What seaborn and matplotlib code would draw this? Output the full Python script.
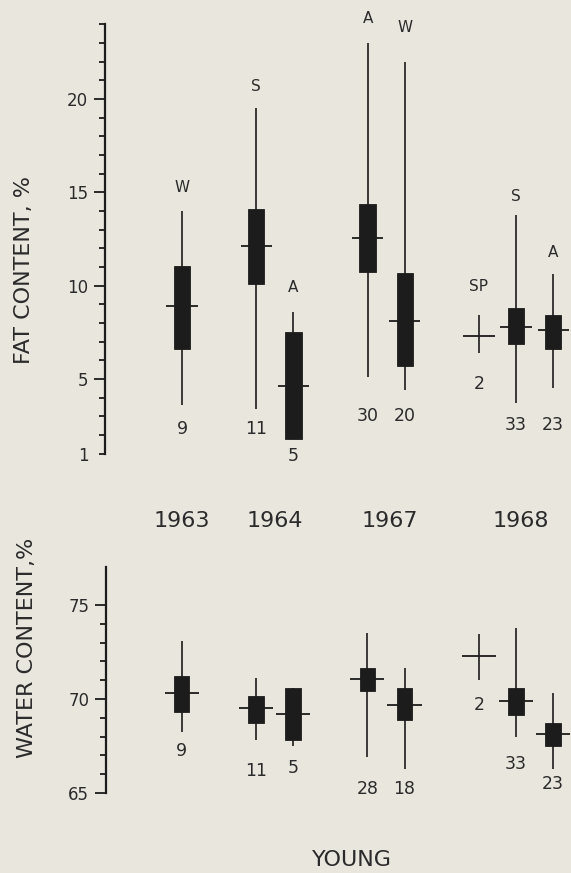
import numpy as np
import matplotlib
matplotlib.use("Agg")
import matplotlib.pyplot as plt
import seaborn as sns
from matplotlib.ticker import FixedLocator, FuncFormatter, NullFormatter

# ---------------- data ----------------
years = ["1963", "1964", "1967", "1968"]
seasons = ["W", "S", "A", "A", "W", "SP", "S", "A"]
group_year = ["1963", "1964", "1964", "1967", "1967", "1968", "1968", "1968"]

fat_low = [3.6, 3.4, 1.8, 5.1, 4.4, 6.4, 3.7, 4.5]
fat_q1 = [6.6, 10.1, 1.8, 10.75, 5.7, np.nan, 6.85, 6.6]
fat_med = [8.9, 12.1, 4.65, 12.55, 8.1, 7.3, 7.8, 7.6]
fat_q3 = [11.05, 14.1, 7.5, 14.4, 10.7, np.nan, 8.8, 8.45]
fat_high = [14.0, 19.5, 8.6, 23.0, 22.0, 8.45, 13.8, 10.6]
fat_n = [9, 11, 5, 30, 20, 2, 33, 23]

water_low = [68.25, 67.8, 67.5, 66.9, 66.3, 71.0, 68.0, 66.3]
water_q1 = [69.3, 68.7, 67.8, 70.4, 68.9, np.nan, 69.15, 67.5]
water_med = [70.3, 69.5, 69.2, 71.05, 69.7, 72.3, 69.9, 68.15]
water_q3 = [71.2, 70.15, 70.6, 71.65, 70.6, np.nan, 70.6, 68.7]
water_high = [73.1, 71.1, 70.6, 73.5, 71.65, 73.45, 73.8, 70.3]
water_n = [9, 11, 5, 28, 18, 2, 33, 23]

# layout (slot positions and label anchors)
slots = [1, 2, 2.5, 3.5, 4, 5, 5.5, 6]
year_slots = [1.0, 2.25, 3.8, 5.56]
season_label_y = [15.25, 20.65, 9.9, 24.3, 23.85, 9.95, 14.75, 11.8]
fat_n_y = [2.3, 2.3, 0.85, 3.0, 3.0, 4.75, 2.55, 2.55]
water_n_y = [67.25, 66.15, 66.35, 65.2, 65.2, 69.7, 66.55, 65.5]

# ---------------- style ----------------
sns.set_theme(style="ticks")
plt.rcParams["font.family"] = ["DejaVu Sans"]
bg = "#e9e6de"
ink = "#1c1c1c"
txt = "#2b2b2b"

fig = plt.figure(figsize=(5.71, 8.73), dpi=100, facecolor=bg)
ax_f = fig.add_axes([0.1839, 0.4803, 0.8161, 0.4919])
ax_w = fig.add_axes([0.1856, 0.09164, 0.8144, 0.2585])


def draw_panel(ax, low, q1, med, q3, high, width, half):
    for x, lo, a, m, b, hi in zip(slots, low, q1, med, q3, high):
        ax.vlines(x, lo, hi, color=ink, lw=1.2, zorder=2)
        if not np.isnan(a):
            ax.bar(x, b - a, bottom=a, width=width, color=ink,
                   edgecolor=ink, lw=0.6, zorder=3)
        ax.hlines(m, x - half, x + half, color=ink, lw=1.3, zorder=4)


draw_panel(ax_f, fat_low, fat_q1, fat_med, fat_q3, fat_high, 0.22, 0.21)
draw_panel(ax_w, water_low, water_q1, water_med, water_q3, water_high, 0.21, 0.23)

for ax in (ax_f, ax_w):
    ax.set_facecolor(bg)
    sns.despine(ax=ax, top=True, right=True, bottom=True)
    ax.spines["left"].set_color(ink)
    ax.spines["left"].set_linewidth(1.6)
    ax.tick_params(axis="x", bottom=False, labelbottom=False)
    ax.tick_params(axis="y", which="major", length=8, width=1.3, color=ink,
                   labelsize=12, labelcolor=txt, pad=4)
    ax.tick_params(axis="y", which="minor", length=4, width=1.3, color=ink,
                   labelsize=12, labelcolor=txt, pad=8)
    ax.grid(False)

ax_f.set_xlim(-0.038, 6.24)
ax_f.set_ylim(1, 24)
ax_f.yaxis.set_major_locator(FixedLocator([5, 10, 15, 20]))
ax_f.yaxis.set_minor_locator(FixedLocator([v for v in range(1, 25) if v not in (5, 10, 15, 20)]))
ax_f.yaxis.set_minor_formatter(FuncFormatter(lambda v, p: "1" if abs(v - 1) < 1e-6 else ""))

ax_w.set_xlim(-0.0175, 6.24)
ax_w.set_ylim(65, 77)
ax_w.yaxis.set_major_locator(FixedLocator([65, 70, 75]))
ax_w.yaxis.set_minor_locator(FixedLocator([66, 67, 68, 69, 71, 72, 73, 74]))
ax_w.yaxis.set_minor_formatter(NullFormatter())

# annotations
for x, s, sy, n, ny in zip(slots, seasons, season_label_y, fat_n, fat_n_y):
    ax_f.text(x, sy, s, ha="center", va="center", fontsize=11, color=txt, clip_on=False)
    ax_f.text(x, ny, str(n), ha="center", va="center", fontsize=12.5, color=txt, clip_on=False)
for x, n, ny in zip(slots, water_n, water_n_y):
    ax_w.text(x, ny, str(n), ha="center", va="center", fontsize=12.5, color=txt, clip_on=False)

for x, y in zip(year_slots, years):
    ax_f.text(x, -2.6, y, ha="center", va="center", fontsize=16, color=txt, clip_on=False)

fig.text(0.042, 0.691, "FAT CONTENT, %", rotation=90, ha="center", va="center",
         fontsize=16, color=txt)
fig.text(0.047, 0.2575, "WATER CONTENT,%", rotation=90, ha="center", va="center",
         fontsize=16, color=txt)
fig.text(0.616, 0.015, "YOUNG", ha="center", va="center", fontsize=16, color=txt)

fig.savefig("out.png", dpi=100, facecolor=bg)
